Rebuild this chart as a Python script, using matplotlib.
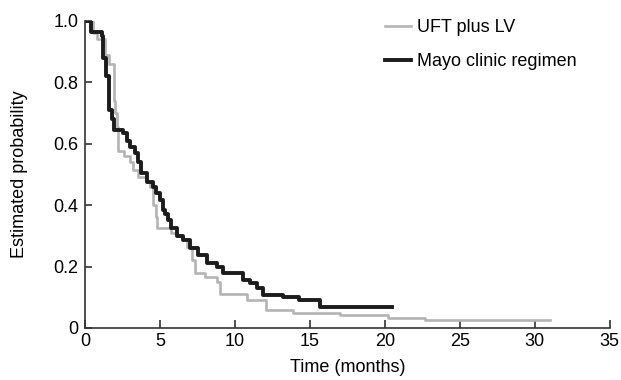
import matplotlib.pyplot as plt
import numpy as np

plt.rcParams['font.family'] = ['Liberation Sans', 'DejaVu Sans']

# UFT plus LV (grey)
uft_t = [0, 0.5, 0.8, 1.3, 1.6, 1.9, 2.0, 2.1, 2.2, 2.6, 3.0, 3.2, 3.5, 4.1, 4.3, 4.5,
         4.7, 4.8, 5.7, 6.1, 6.5, 6.8, 7.1, 7.3, 8.0, 8.8, 9.0, 10.8, 12.1, 13.9, 17.0,
         20.2, 22.7, 31.0]
uft_s = [1.0, 0.96, 0.94, 0.89, 0.86, 0.74, 0.70, 0.655, 0.575, 0.56, 0.54, 0.515, 0.49,
         0.475, 0.46, 0.40, 0.36, 0.325, 0.31, 0.30, 0.29, 0.265, 0.22, 0.18, 0.165, 0.15,
         0.11, 0.09, 0.06, 0.05, 0.043, 0.033, 0.025, 0.025]

# Mayo clinic regimen (black)
mayo_t = [0, 0.4, 1.1, 1.2, 1.4, 1.6, 1.8, 1.9, 2.5, 2.8, 3.0, 3.3, 3.5, 3.7, 4.1, 4.5,
          4.7, 5.0, 5.2, 5.3, 5.5, 5.7, 6.1, 6.5, 7.0, 7.5, 8.1, 8.8, 9.2, 10.5, 11.0,
          11.5, 11.9, 13.2, 14.3, 15.7, 16.1, 20.5]
mayo_s = [1.0, 0.965, 0.95, 0.88, 0.82, 0.71, 0.68, 0.645, 0.635, 0.61, 0.59, 0.57, 0.54,
          0.505, 0.475, 0.46, 0.44, 0.417, 0.385, 0.37, 0.35, 0.325, 0.30, 0.287, 0.26,
          0.238, 0.21, 0.2, 0.18, 0.156, 0.146, 0.13, 0.107, 0.1, 0.091, 0.068, 0.068, 0.068]

xticks = [0, 5, 10, 15, 20, 25, 30, 35]
yticks = [0, 0.2, 0.4, 0.6, 0.8, 1.0]
ylabels = ['0', '0.2', '0.4', '0.6', '0.8', '1.0']

fig = plt.figure(figsize=(6.21, 3.8), dpi=100)
ax = fig.add_axes([0.137, 0.137, 0.845, 0.808])

ax.step(uft_t, uft_s, where='post', color='#b4b4b4', lw=1.9, label='UFT plus LV')
ax.step(mayo_t, mayo_s, where='post', color='#1c1c1c', lw=2.8, label='Mayo clinic regimen')

ax.set_xlim(0, 35)
ax.set_ylim(0, 1.0)
ax.set_xticks(xticks)
ax.set_yticks(yticks)
ax.set_yticklabels(ylabels)

for s in ['top', 'right']:
    ax.spines[s].set_visible(False)
for s in ['left', 'bottom']:
    ax.spines[s].set_color('#333333')
    ax.spines[s].set_linewidth(1.2)

ax.tick_params(axis='x', direction='in', length=6, width=1.2, color='#333333',
               labelsize=13, pad=4)
ax.tick_params(axis='y', direction='in', length=5, width=1.2, color='#333333',
               labelsize=13, pad=5)

ax.set_xlabel('Time (months)', fontsize=13)
ax.set_ylabel('Estimated probability', fontsize=13)
ax.xaxis.set_label_coords(0.5, -0.10)
ax.yaxis.set_label_coords(-0.108, 0.5)

ax.legend(loc='upper left', bbox_to_anchor=(385 / 621, 1 - 19 / 380),
          bbox_transform=fig.transFigure, frameon=False, fontsize=13,
          handlelength=1.45, handletextpad=0.3, labelspacing=0.95,
          borderpad=0, borderaxespad=0)

fig.savefig('out.png', dpi=100)
